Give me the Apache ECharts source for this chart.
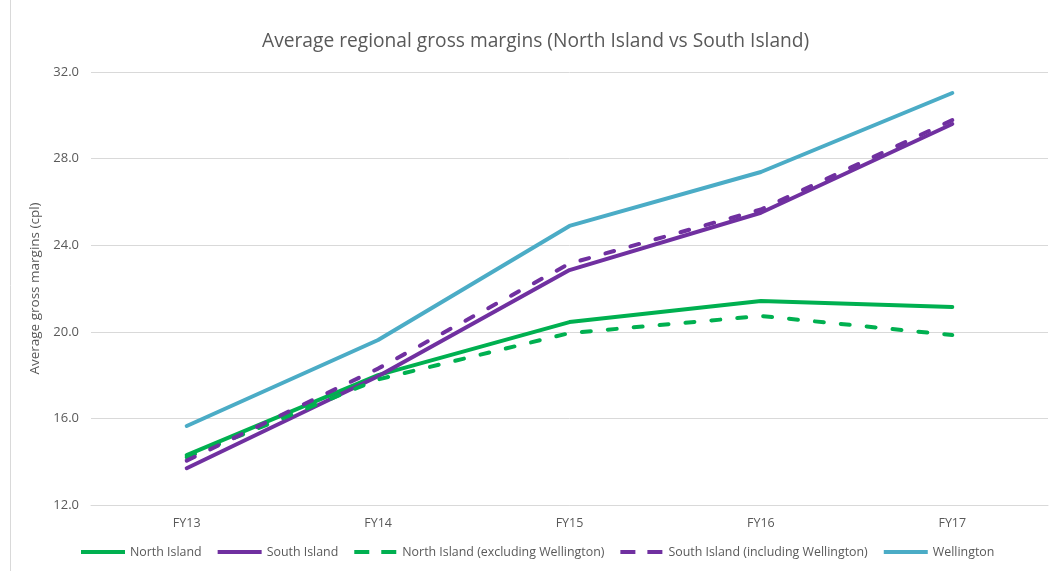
<!DOCTYPE html>
<html>
<head>
<meta charset="utf-8">
<script src="https://cdn.jsdelivr.net/npm/echarts@6/dist/echarts.min.js"></script>
<style>
html, body { margin: 0; padding: 0; background: #fff; }
#chart { width: 1050px; height: 571px; }
</style>
</head>
<body>
<div id="chart"></div>
<script>
// categories
var years = ['FY13', 'FY14', 'FY15', 'FY16', 'FY17']
// series values (cpl)
var northIsland = [14.3, 18.0, 20.45, 21.42, 21.15]
var southIsland = [13.7, 17.95, 22.85, 25.5, 29.6]
var northExclWellington = [14.2, 17.8, 19.94, 20.73, 19.85]
var southInclWellington = [14.05, 18.3, 23.15, 25.65, 29.78]
var wellington = [15.65, 19.62, 24.89, 27.38, 31.03]

var green = '#00b050'
var purple = '#7030a0'
var teal = '#4bacc6'

// legend icons: solid bar, or two short dashes
var solidIcon = 'path://M0,0H44V4H0Z'
var dashIcon = 'path://M0,0H15V4H0Z M27,0H42V4H27Z'

var myChart = echarts.init(document.getElementById('chart'))

function makeLine(name, data, color, dashed) {
    return {
        name: name,
        type: 'line',
        data: data,
        symbol: 'none',
        lineStyle: {
            color: color,
            width: 4,
            type: dashed ? [9, 17] : 'solid',
            cap: 'round'
        },
        itemStyle: { color: color }
    }
}

myChart.setOption({
    animation: false,
    textStyle: { fontFamily: 'Open Sans' },
    title: {
        text: 'Average regional gross margins (North Island vs South Island)',
        left: 257,
        top: 27,
        textStyle: { color: '#595959', fontWeight: 'normal', fontSize: 19.2, fontFamily: 'Open Sans' }
    },
    graphic: [{
        type: 'line',
        shape: { x1: 10.5, y1: 0, x2: 10.5, y2: 571 },
        style: { stroke: '#d9d9d9', lineWidth: 1 }
    }],
    legend: {
        bottom: 8,
        left: 76,
        itemWidth: 44,
        itemHeight: 4,
        itemGap: 16,
        textStyle: { color: '#595959', fontSize: 12.4 },
        data: [
            { name: 'North Island', icon: solidIcon },
            { name: 'South Island', icon: solidIcon },
            { name: 'North Island (excluding Wellington)', icon: dashIcon },
            { name: 'South Island (including Wellington)', icon: dashIcon },
            { name: 'Wellington', icon: solidIcon }
        ]
    },
    grid: { left: 91, right: 2, top: 72, bottom: 66 },
    xAxis: {
        type: 'category',
        data: years,
        axisLine: { lineStyle: { color: '#d9d9d9', width: 1 } },
        axisTick: { show: false },
        axisLabel: { color: '#595959', fontSize: 12.5, margin: 12 }
    },
    yAxis: {
        type: 'value',
        min: 12,
        max: 32,
        interval: 4,
        name: 'Average gross margins (cpl)',
        nameLocation: 'middle',
        nameGap: 37,
        nameTextStyle: { color: '#595959', fontSize: 13.5 },
        axisLine: { show: false },
        axisTick: { show: false },
        axisLabel: {
            color: '#595959',
            fontSize: 13,
            margin: 12,
            formatter: function (v) { return v.toFixed(1) }
        },
        splitLine: { lineStyle: { color: '#d9d9d9', width: 1 } }
    },
    series: [
        makeLine('North Island', northIsland, green, false),
        makeLine('South Island', southIsland, purple, false),
        makeLine('North Island (excluding Wellington)', northExclWellington, green, true),
        makeLine('South Island (including Wellington)', southInclWellington, purple, true),
        makeLine('Wellington', wellington, teal, false)
    ]
})
</script>
</body>
</html>
